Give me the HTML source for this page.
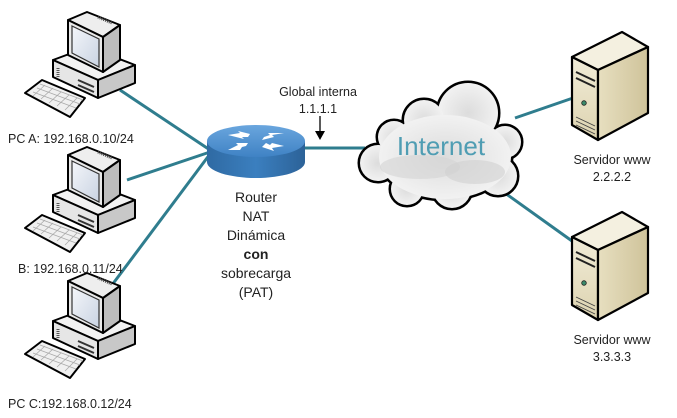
<!DOCTYPE html>
<html><head><meta charset="utf-8"><style>
html,body{margin:0;padding:0;background:#fff;}
svg{display:block;}
text{font-family:"Liberation Sans",Arial,sans-serif;fill:#222;}
</style></head><body>
<svg width="677" height="418" viewBox="0 0 677 418" xmlns="http://www.w3.org/2000/svg">
<defs>
<linearGradient id="scr" x1="0" y1="0" x2="1" y2="1"><stop offset="0" stop-color="#f4f6fa"/><stop offset="1" stop-color="#c9d3e2"/></linearGradient>
<linearGradient id="rt" x1="0" y1="0" x2="0" y2="1"><stop offset="0" stop-color="#6aa6de"/><stop offset="1" stop-color="#3f82c4"/></linearGradient>
<linearGradient id="rs" x1="0" y1="0" x2="1" y2="0"><stop offset="0" stop-color="#2f6aa3"/><stop offset="0.5" stop-color="#3b7fbf"/><stop offset="1" stop-color="#2c6298"/></linearGradient>
<linearGradient id="sf" x1="0" y1="0" x2="0" y2="1"><stop offset="0" stop-color="#f1ecd8"/><stop offset="1" stop-color="#ddd3b0"/></linearGradient>
<linearGradient id="ss" x1="0" y1="0" x2="1" y2="0"><stop offset="0" stop-color="#e7dfc0"/><stop offset="1" stop-color="#cfc39a"/></linearGradient>
<radialGradient id="cl" cx="0.5" cy="0.5" r="0.6"><stop offset="0" stop-color="#dcdcdc"/><stop offset="1" stop-color="#f6f6f6"/></radialGradient>
<g id="pc">
  <polygon points="53,60 88,47 135,65 98,80" fill="#f2f2f2" stroke="#000" stroke-width="2" stroke-linejoin="round"/>
  <polygon points="53,60 98,80 98,98 53,77" fill="#e6e6e6" stroke="#000" stroke-width="2" stroke-linejoin="round"/>
  <polygon points="98,80 135,65 135,83 98,98" fill="#c8c8c8" stroke="#000" stroke-width="2" stroke-linejoin="round"/>
  <line x1="78" y1="80" x2="94" y2="87" stroke="#333" stroke-width="2"/>
  <line x1="78" y1="85" x2="94" y2="92" stroke="#333" stroke-width="2"/>
  <line x1="58" y1="68" x2="58" y2="78" stroke="#555" stroke-width="3" stroke-dasharray="1,1"/>
  <polygon points="68,20 87,12 120,25 103,37" fill="#eee" stroke="#000" stroke-width="2" stroke-linejoin="round"/>
  <polygon points="103,37 120,25 120,60 103,72" fill="#bdbdbd" stroke="#000" stroke-width="2" stroke-linejoin="round"/>
  <polygon points="68,20 103,37 103,72 68,55" fill="#e9e9e9" stroke="#000" stroke-width="2" stroke-linejoin="round"/>
  <polygon points="72,26 99,39 99,67 72,53" fill="url(#scr)" stroke="#333" stroke-width="1.2"/>
  <line x1="98" y1="17" x2="112" y2="23" stroke="#444" stroke-width="3" stroke-dasharray="1,1"/>
  <polygon points="25,93 42,80 85,98 70,117" fill="#f0f0f0" stroke="#000" stroke-width="2" stroke-linejoin="round"/>
  <path d="M33,92 L76,108 M37,88 L80,104 M40,84 L83,100 M45,85 L33,96 M53,88 L41,99 M61,92 L49,103 M69,95 L57,106 M77,98 L65,110" stroke="#aaa" stroke-width="0.8" fill="none"/>
</g>
<g id="srv">
  <polygon points="572,57 622,32 648,47 598,70" fill="#f4f0e0" stroke="#000" stroke-width="2.2" stroke-linejoin="round"/>
  <polygon points="572,57 598,70 598,140 572,125" fill="url(#sf)" stroke="#000" stroke-width="2.2" stroke-linejoin="round"/>
  <polygon points="598,70 648,47 648,113 598,140" fill="url(#ss)" stroke="#000" stroke-width="2.2" stroke-linejoin="round"/>
  <line x1="576" y1="72" x2="595" y2="81" stroke="#222" stroke-width="2"/>
  <line x1="576" y1="78" x2="595" y2="87" stroke="#222" stroke-width="2"/>
  <circle cx="584" cy="103" r="2.3" fill="#3a8a6a" stroke="#222" stroke-width="0.8"/>
  <path d="M576,117 L595,126 M576,121 L595,130 M576,125 L595,134" stroke="#444" stroke-width="0.9"/>
</g>
<g id="cloudshape">
  <circle cx="468" cy="113" r="30"/><circle cx="424" cy="120" r="20"/><circle cx="505" cy="142" r="16"/>
  <circle cx="498" cy="176" r="19"/><circle cx="452" cy="189" r="19"/><circle cx="407" cy="189" r="16"/>
  <circle cx="378" cy="163" r="18"/><circle cx="394" cy="137" r="16"/><ellipse cx="445" cy="157" rx="66" ry="42"/>
</g>
</defs>

<g stroke="#2f7d8e" stroke-width="3" fill="none">
  <line x1="120" y1="90" x2="210" y2="150"/>
  <line x1="127" y1="180" x2="210" y2="152"/>
  <line x1="112" y1="285" x2="210" y2="154"/>
  <line x1="300" y1="148" x2="365" y2="148"/>
  <line x1="515" y1="118" x2="573" y2="98"/>
  <line x1="498" y1="188" x2="572" y2="241"/>
</g>

<use href="#pc"/>
<use href="#pc" transform="translate(0,135)"/>
<use href="#pc" transform="translate(0,261)"/>

<text x="8" y="143" font-size="12.5">PC A: 192.168.0.10/24</text>
<text x="18" y="273" font-size="12.5">B: 192.168.0.11/24</text>
<text x="8" y="408" font-size="12.5">PC C:192.168.0.12/24</text>

<path d="M207,141 L207,162 A49,16 0 0 0 305,162 L305,141 Z" fill="url(#rs)"/>
<ellipse cx="256" cy="141" rx="49" ry="16" fill="url(#rt)"/>
<g fill="#fff">
  <polygon points="228,135 240,133 238,131 250,134 248,137 242,137 244,139"/>
  <polygon points="284,133 272,135 274,137 262,140 264,137 270,135 268,133" />
  <polygon points="228,150 238,145 236,143 248,143 246,146 242,147 240,150"/>
  <polygon points="284,146 272,148 274,151 262,147 266,143 270,145 272,143"/>
</g>

<g font-size="14" text-anchor="middle">
  <text x="256" y="202">Router</text>
  <text x="256" y="221">NAT</text>
  <text x="256" y="240">Dinámica</text>
  <text x="256" y="259" font-weight="bold">con</text>
  <text x="256" y="278">sobrecarga</text>
  <text x="256" y="297">(PAT)</text>
</g>

<g font-size="12.5" text-anchor="middle">
  <text x="318" y="96">Global interna</text>
  <text x="318" y="113">1.1.1.1</text>
</g>
<line x1="320" y1="116" x2="320" y2="132" stroke="#000" stroke-width="1.3"/>
<polygon points="315,131 325,131 320,140" fill="#000"/>

<use href="#cloudshape" stroke="#000" stroke-width="5" fill="#000"/>
<use href="#cloudshape" fill="url(#cl)"/>
<ellipse cx="420" cy="167" rx="40" ry="12" fill="#d4d4d4" opacity="0.6"/>
<ellipse cx="475" cy="172" rx="30" ry="12" fill="#d0d0d0" opacity="0.6"/>
<text x="441" y="155" font-size="26" text-anchor="middle" style="fill:#4f9db3">Internet</text>

<use href="#srv"/>
<use href="#srv" transform="translate(0,180)"/>
<g font-size="12.5" text-anchor="middle">
  <text x="612" y="164">Servidor www</text>
  <text x="612" y="181">2.2.2.2</text>
  <text x="612" y="344">Servidor www</text>
  <text x="612" y="361">3.3.3.3</text>
</g>
</svg>
</body></html>
